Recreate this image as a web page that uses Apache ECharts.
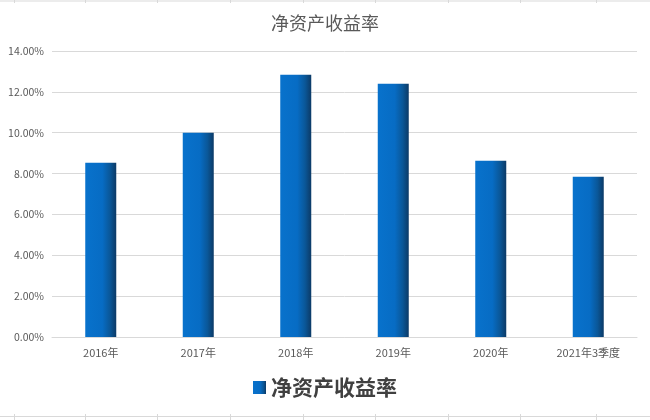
<!DOCTYPE html>
<html><head><meta charset="utf-8">
<script src="https://cdn.jsdelivr.net/npm/echarts@6/dist/echarts.min.js"></script>
<style>html,body{margin:0;padding:0;background:#fff}#c{width:650px;height:420px}</style>
</head><body><div id="c"></div>
<script>
var categories = ['2016年','2017年','2018年','2019年','2020年','2021年3季度'];
var roeValues = [8.53, 10.00, 12.84, 12.40, 8.63, 7.84];
var yTicks = [0, 2, 4, 6, 8, 10, 12, 14];
var seriesName = '净资产收益率';
var cellLineX = [14, 85, 157, 230, 303, 375, 448, 520, 596];

var chart = echarts.init(document.getElementById('c'));
var barGrad = new echarts.graphic.LinearGradient(0,0,1,0,[
  {offset:0,color:'#0872cc'},{offset:0.55,color:'#076cc4'},{offset:0.8,color:'#0a5798'},{offset:1,color:'#0c3a66'}
]);
var g = [];
g.push({type:'line',shape:{x1:0,y1:1,x2:650,y2:1},style:{stroke:'#d9d9d9',lineWidth:1}});
g.push({type:'line',shape:{x1:0,y1:416.5,x2:650,y2:416.5},style:{stroke:'#d9d9d9',lineWidth:1}});
cellLineX.forEach(function(x){
  g.push({type:'line',shape:{x1:x+0.5,y1:0,x2:x+0.5,y2:3},style:{stroke:'#d9d9d9',lineWidth:1}});
  g.push({type:'line',shape:{x1:x+0.5,y1:414,x2:x+0.5,y2:420},style:{stroke:'#d9d9d9',lineWidth:1}});
});
chart.setOption({
  animation:false,
  textStyle:{fontFamily:'"Noto Sans CJK SC", "Noto Sans", sans-serif'},
  title:{text:seriesName,left:'center',top:9,textStyle:{fontSize:18,fontWeight:'normal',color:'#595959'}},
  legend:{data:[seriesName],left:'center',top:372,itemWidth:13,itemHeight:13,itemGap:9,
    textStyle:{fontSize:21,fontWeight:'bold',color:'#404040'},icon:'rect'},
  grid:{left:52,right:13,top:51,bottom:83,containLabel:false},
  xAxis:{type:'category',data:categories,
    axisLine:{lineStyle:{color:'#d9d9d9'}},axisTick:{show:false},
    axisLabel:{fontSize:11,color:'#595959',margin:10}},
  yAxis:{type:'value',min:yTicks[0],max:yTicks[yTicks.length-1],interval:2,
    axisLine:{show:false},axisTick:{show:false},
    splitLine:{lineStyle:{color:'#d9d9d9'}},
    axisLabel:{fontSize:10.5,color:'#595959',margin:8,formatter:function(v){return v.toFixed(2)+'%';}}},
  series:[{name:seriesName,type:'bar',data:roeValues,barWidth:31,
    itemStyle:{color:barGrad}}],
  graphic:g
});
</script></body></html>
